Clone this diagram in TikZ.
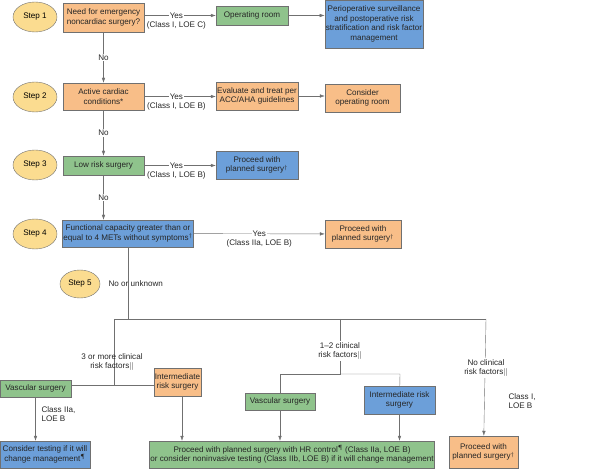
\documentclass[tikz,border=0pt]{standalone}
\usepackage{fontspec}
\setmainfont{Liberation Sans}
\usetikzlibrary{arrows.meta,shapes.geometric}
\definecolor{orng}{HTML}{F8BE88}
\definecolor{grn}{HTML}{8FC38C}
\definecolor{blu}{HTML}{6C9FD9}
\definecolor{yel}{HTML}{FBDC90}
\definecolor{edge}{HTML}{707070}

\begin{document}
\begin{tikzpicture}[x=1pt, y=-1pt, font=\fontsize{8.1}{9.6}\selectfont,
  box/.style = {draw=edge, inner sep=1pt, align=center, text=black!85},
  ob/.style = {box, fill=orng}, gb/.style = {box, fill=grn}, bb/.style = {box, fill=blu},
  stp/.style = {ellipse, draw=edge, fill=yel, minimum width=44pt, minimum height=30pt, inner sep=0pt},
  arr/.style = {draw=edge, -{Latex[length=5pt,width=3.5pt]}},
  ln/.style = {draw=edge},
  lbl/.style = {fill=white, inner sep=1pt, align=center, text=black!85},
  cls/.style = {below=1pt, inner sep=1pt, text=black!85}]
\useasboundingbox (0,0) rectangle (600,470);

%steps
\node[stp] (s1) at (35,17) {Step 1};
\node[stp] (s2) at (35,97) {Step 2};
\node[stp] (s3) at (35,165) {Step 3};
\node[stp] (s4) at (35,234) {Step 4};
\node[stp, minimum width=40pt, minimum height=28pt] (s5) at (80,284) {Step 5};

%boxes
\node[ob, minimum width=81pt, minimum height=29pt] (emerg) at (103.5,17.5) {Need for emergency\\noncardiac surgery?};
\node[gb, minimum width=72pt, minimum height=19pt] (oproom) at (252,15.5) {Operating room};
\node[bb, minimum width=98pt, minimum height=48pt] (periop) at (374,24) {Perioperative surveillance\\and postoperative risk\\stratification and risk factor\\management};
\node[ob, minimum width=81pt, minimum height=27pt] (active) at (103.5,96.5) {Active cardiac\\conditions*};
\node[ob, minimum width=82pt, minimum height=28pt] (evaluate) at (257,96) {Evaluate and treat per\\ACC/AHA guidelines};
\node[ob, minimum width=75pt, minimum height=28pt] (consider) at (362.5,98) {Consider\\operating room};
\node[gb, minimum width=81pt, minimum height=19pt] (lowrisk) at (103.5,165.5) {Low risk surgery};
\node[bb, minimum width=82pt, minimum height=28pt] (proceed3) at (257,165) {Proceed with\\planned surgery$^\dagger$};
\node[bb, minimum width=130pt, minimum height=27pt] (func) at (128,233.5) {Functional capacity greater than or\\equal to 4 METs without symptoms$^\dagger$};
\node[ob, minimum width=76pt, minimum height=28pt] (proceed4) at (363,234) {Proceed with\\planned surgery$^\dagger$};

\node[gb, minimum width=71pt, minimum height=17pt] (vasc1) at (35.5,388.5) {Vascular surgery};
\node[ob, minimum width=45pt, minimum height=28pt] (inter1) at (177.5,382) {Intermediate\\risk surgery};
\node[gb, minimum width=70pt, minimum height=17pt] (vasc2) at (280,401.5) {Vascular surgery};
\node[bb, minimum width=71pt, minimum height=28pt] (inter2) at (399.5,400) {Intermediate risk\\surgery};
\node[bb, minimum width=90pt, minimum height=27pt] (testing) at (45,454.5) {Consider testing if it will\\change management$^\P$};
\node[gb, minimum width=278pt, minimum height=27pt] (hrctrl) at (292,454.5) {Proceed with planned surgery with HR control$^\P$ (Class IIa, LOE B)\\or consider noninvasive testing (Class IIb, LOE B) if it will change management};
\node[ob, minimum width=69pt, minimum height=32pt] (proceed5) at (483.5,452) {Proceed with\\planned surgery$^\dagger$};

%yes arrows
\draw[arr] (emerg.east |- oproom) -- node[lbl, pos=.45] (y1) {Yes} (oproom);
\node[cls] at (y1.south) {(Class I, LOE C)};
\draw[arr] (oproom.east) -- (oproom.east -| periop.west);
\draw[arr] (active.east) -- node[lbl, pos=.45] (y2) {Yes} (active.east -| evaluate.west);
\node[cls] at (y2.south) {(Class I, LOE B)};
\draw[arr] (evaluate.east) -- (evaluate.east -| consider.west);
\draw[arr] (lowrisk) -- node[lbl, pos=.45] (y3) {Yes} (lowrisk -| proceed3.west);
\node[cls] at (y3.south) {(Class I, LOE B)};
\draw[arr] (func) -- node[lbl, pos=.5] (y4) {Yes} (proceed4);
\node[cls] at (y4.south) {(Class IIa, LOE B)};

%no arrows
\draw[arr] (emerg) -- node[lbl] {No} (active);
\draw[arr] (active) -- node[lbl] {No} (lowrisk);
\draw[arr] (lowrisk.south) -- node[lbl] {No} (lowrisk.south |- func.north);
\node[anchor=west, text=black!85] (nounk) at (105,284) {No or unknown};

%step 5 branches
\coordinate (split) at (128,319);
\draw[ln] (func) -- (split);
\draw[ln] (114,319) -- (486,319);
\draw[ln] (114,319) -- (114,385);
\draw[ln] (vasc1.east |- 0,385) -- (inter1.west |- 0,385);
\node[lbl, fill=none] (three) at (112,362) {3 or more clinical\\risk factors$\|$};
\draw[ln] (340,319) -- (340,374) -- (280,374) -- (vasc2);
\draw[ln] (340,374) -- (400,374) -- (inter2);
\node[lbl] (onetwo) at (340,351) {1--2 clinical\\risk factors$\|$};
\draw[arr] (486,319) -- (proceed5);
\node[lbl] (noclin) at (486,368) {No clinical\\risk factors$\|$};
\node[anchor=west, align=left, text=black!85] (c1) at (505,401) {Class I,\\LOE B};

\draw[arr] (vasc1) -- (testing.north -| vasc1);
\node[anchor=west, align=left, text=black!85] (c2a) at (38,414) {Class IIa,\\LOE B};
\draw[arr] (inter1.south -| 182,0) -- (hrctrl.north -| 182,0);
\draw[arr] (vasc2) -- (hrctrl.north -| vasc2);
\draw[arr] (inter2) -- (hrctrl.north -| inter2);
\end{tikzpicture}
\end{document}
